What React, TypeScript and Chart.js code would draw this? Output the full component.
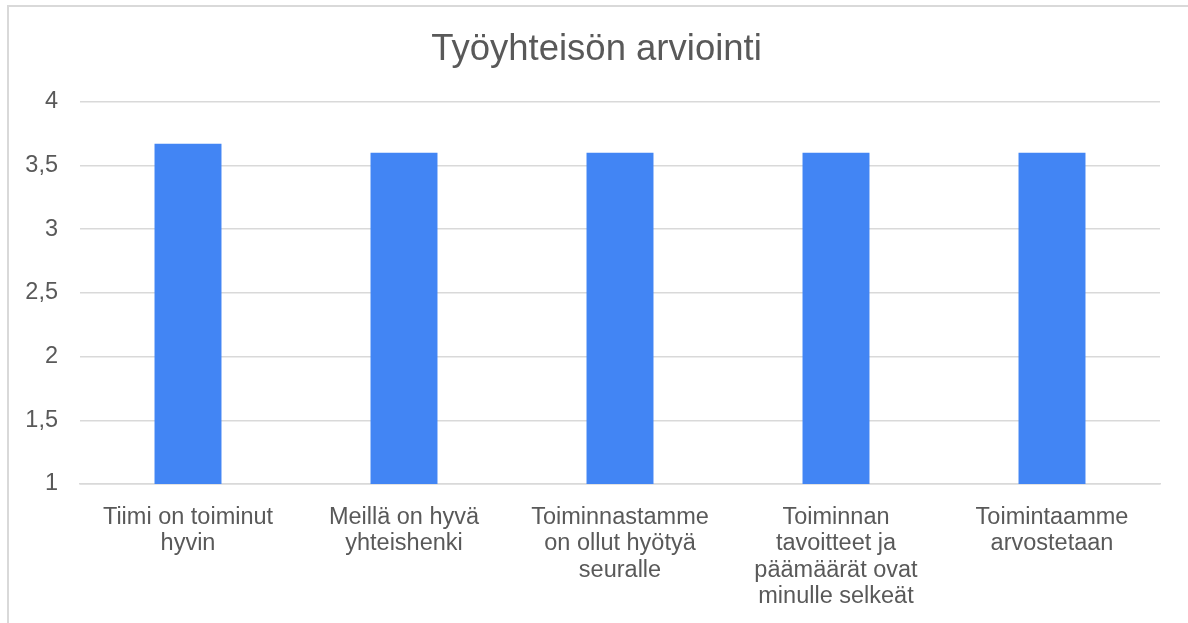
import React, { useEffect, useRef } from "react";
import { Chart, registerables } from "chart.js";

Chart.register(...registerables);

const TITLE = "Työyhteisön arviointi";
const categories: string[][] = [
  ["Tiimi on toiminut", "hyvin"],
  ["Meillä on hyvä", "yhteishenki"],
  ["Toiminnastamme", "on ollut hyötyä", "seuralle"],
  ["Toiminnan", "tavoitteet ja", "päämäärät ovat", "minulle selkeät"],
  ["Toimintaamme", "arvostetaan"],
];
const values: number[] = [3.67, 3.6, 3.6, 3.6, 3.6];
const yMin = 1;
const yMax = 4;
const yStep = 0.5;

const FONT = "'Liberation Sans', Arial, sans-serif";
const TEXT = "#595959";
const GRID = "#d9d9d9";
const BAR = "#4285f4";

export default function App() {
  const ref = useRef<HTMLCanvasElement | null>(null);

  useEffect(() => {
    if (!ref.current) return;
    const chart = new Chart(ref.current, {
      type: "bar",
      data: {
        labels: categories,
        datasets: [
          {
            data: values,
            backgroundColor: BAR,
            borderWidth: 0,
            categoryPercentage: 1,
            barPercentage: 0.31,
          },
        ],
      },
      options: {
        responsive: false,
        animation: false,
        layout: { padding: { left: 5, right: 0, top: 0, bottom: 0 } },
        plugins: {
          legend: { display: false },
          tooltip: { enabled: false },
          title: {
            display: true,
            text: TITLE,
            color: TEXT,
            font: { family: FONT, size: 36.5, weight: "normal", lineHeight: 1.2 },
            padding: { top: 28, bottom: 30 },
          },
        },
        scales: {
          x: {
            grid: { display: false },
            border: { display: true, color: GRID, width: 1.5 },
            ticks: {
              color: TEXT,
              font: { family: FONT, size: 23.5, lineHeight: "26.5px" },
              maxRotation: 0,
              autoSkip: false,
              padding: 12,
            },
            afterFit: (scale: any) => {
              scale.height = 623 - 484;
            },
          },
          y: {
            min: yMin,
            max: yMax,
            grid: { color: GRID, lineWidth: 1.5, drawTicks: false },
            border: { display: false },
            ticks: {
              stepSize: yStep,
              color: TEXT,
              font: { family: FONT, size: 23.5 },
              padding: 22,
              callback: (v: any) => String(v).replace(".", ","),
            },
            afterFit: (scale: any) => {
              scale.width = 75;
            },
          },
          y2: {
            position: "right",
            display: true,
            grid: { display: false, drawTicks: false },
            border: { display: false },
            ticks: { display: false },
            afterFit: (scale: any) => {
              scale.width = 28;
            },
          },
        },
      },
    });
    return () => chart.destroy();
  }, []);

  return (
    <div
      style={{
        position: "fixed",
        left: 0,
        top: 0,
        width: 1188,
        height: 623,
        background: "#fff",
        overflow: "hidden",
      }}
    >
      <div
        style={{
          position: "absolute",
          left: 7,
          top: 5,
          width: 1300,
          height: 700,
          borderLeft: `2px solid ${GRID}`,
          borderTop: `2px solid ${GRID}`,
        }}
      />
      <canvas
        ref={ref}
        width={1188}
        height={623}
        style={{ position: "absolute", left: 0, top: 0, width: 1188, height: 623 }}
      />
    </div>
  );
}
